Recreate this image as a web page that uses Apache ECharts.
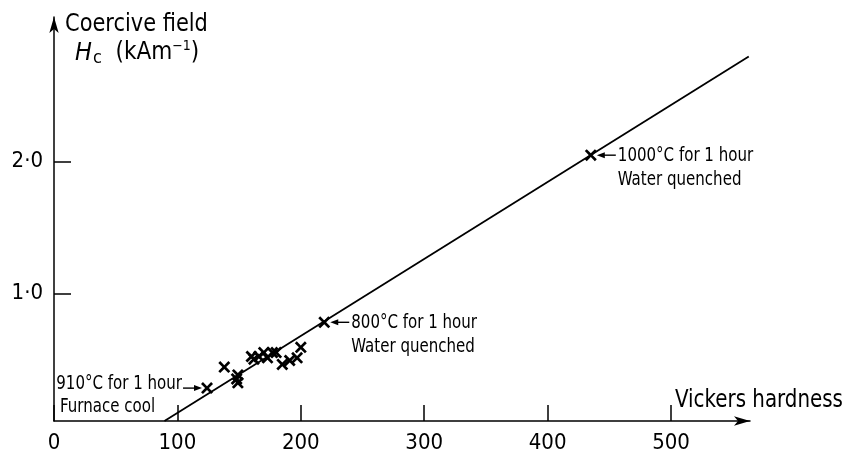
<!DOCTYPE html>
<html><head><meta charset="utf-8">
<script src="https://cdn.jsdelivr.net/npm/echarts@6/dist/echarts.min.js"></script>
<style>html,body{margin:0;padding:0;background:#fff}#c{width:852px;height:454px}</style>
</head><body><div id="c"></div>
<script>
const FONT = "'DejaVu Sans Condensed','DejaVu Sans',sans-serif";

// Vickers hardness (HV) and coercive field Hc (kA/m) of the measured samples
const hardness = [124, 138, 149, 148, 149, 160, 162, 166, 170, 173, 177, 180, 185, 191, 197, 200, 219, 435];
const coercive = [0.28, 0.44, 0.38, 0.35, 0.32, 0.52, 0.50, 0.52, 0.55, 0.51, 0.55, 0.55, 0.46, 0.49, 0.51, 0.59, 0.78, 2.05];

// straight-line fit, end points
const fitHardness = [89.5, 563];
const fitCoercive = [0.03, 2.80];

// axis ticks
const xTicks = [0, 100, 200, 300, 400, 500];
const yTicks = [1, 2];

// heat-treatment notes on single samples (index into the arrays above)
const notes = [
  { idx: 0,  side: 'left',  lines: ['910°C for 1 hour', 'Furnace cool'] },
  { idx: 16, side: 'right', lines: ['800°C for 1 hour', 'Water quenched'] },
  { idx: 17, side: 'right', lines: ['1000°C for 1 hour', 'Water quenched'] }
];

const chart = echarts.init(document.getElementById('c'), null, { renderer: 'canvas' });

const axisLineStyle = { color: '#000', width: 1.5 };

// filled diagonal cross used as the sample marker
const CROSS = 'path://M0,1.6L1.6,0L5,3.4L8.4,0L10,1.6L6.6,5L10,8.4L8.4,10L5,6.6L1.6,10L0,8.4L3.4,5Z';

chart.setOption({
  animation: false,
  backgroundColor: '#fff',
  grid: { left: 54, top: 17, width: 696, height: 405, containLabel: false },
  xAxis: {
    type: 'value', min: 0, max: 564,
    axisLine: { onZero: false, lineStyle: axisLineStyle, symbol: ['none', 'arrow'], symbolSize: [7, 16] },
    axisTick: { inside: true, length: 16, lineStyle: axisLineStyle, customValues: xTicks },
    axisLabel: { customValues: xTicks, color: '#000', fontSize: 22, fontFamily: FONT, margin: 11 },
    splitLine: { show: false }
  },
  yAxis: {
    type: 'value', min: 0.03, max: 3.1,
    axisLine: { onZero: false, lineStyle: axisLineStyle, symbol: ['none', 'arrow'], symbolSize: [7, 16] },
    axisTick: { inside: true, length: 17, lineStyle: axisLineStyle, customValues: yTicks },
    axisLabel: {
      customValues: yTicks, color: '#000', fontSize: 22, fontFamily: FONT, margin: 11,
      formatter: v => v.toFixed(1).replace('.', '·')
    },
    splitLine: { show: false }
  },
  series: [
    {
      type: 'line',
      data: fitHardness.map((x, i) => [x, fitCoercive[i]]),
      showSymbol: false, symbol: 'none',
      lineStyle: { color: '#000', width: 1.8 },
      z: 2
    },
    {
      type: 'scatter',
      data: hardness.map((x, i) => [x, coercive[i]]),
      symbol: CROSS,
      symbolSize: 12,
      itemStyle: { color: '#000', opacity: 1 },
      z: 3
    }
  ]
});

// axis titles and notes, placed from the axes' own coordinate conversion
function px(x, y) { return chart.convertToPixel({ gridIndex: 0 }, [x, y]); }

function arrow(x1, x2, y) {
  // shaft from x1 to x2 with a head pointing at x2
  const dir = x2 > x1 ? 1 : -1;
  return [
    { type: 'line', shape: { x1: x1, y1: y, x2: x2 - dir * 6, y2: y }, style: { stroke: '#000', lineWidth: 1.4 }, z: 10 },
    { type: 'polygon', shape: { points: [[x2, y], [x2 - dir * 8, y - 3], [x2 - dir * 8, y + 3]] }, style: { fill: '#000' }, z: 10 }
  ];
}

// narrow lettering for the notes
function note(x, y, text, align) {
  return {
    type: 'text', x: x, y: y, scaleX: 0.88, z: 10,
    style: { text: text, fill: '#000', fontFamily: FONT, fontSize: 19, verticalAlign: 'middle', align: align }
  };
}

const graphics = [];

notes.forEach(n => {
  const p = px(hardness[n.idx], coercive[n.idx]);
  if (n.side === 'right') {
    graphics.push(...arrow(p[0] + 25, p[0] + 6, p[1]));
    graphics.push(note(p[0] + 27, p[1] + 1, n.lines[0], 'left'));
    graphics.push(note(p[0] + 27, p[1] + 25, n.lines[1], 'left'));
  } else {
    graphics.push(...arrow(p[0] - 24, p[0] - 5, p[1]));
    graphics.push(note(p[0] - 25, p[1] - 4, n.lines[0], 'right'));
    graphics.push(note(p[0] - 147, p[1] + 19, n.lines[1], 'left'));
  }
});

// y-axis title, two lines
const yTop = px(0, 3.1);
graphics.push({
  type: 'text', x: yTop[0] + 11, y: yTop[1] + 8, scaleX: 0.97,
  style: { text: 'Coercive field', fill: '#000', fontFamily: FONT, fontSize: 24, verticalAlign: 'middle', align: 'left' }, z: 10
});
graphics.push({
  type: 'text', x: yTop[0] + 21, y: yTop[1] + 36,
  style: {
    text: '{i|H}{sub|c}  (kAm{sup|−1})',
    fill: '#000', fontFamily: FONT, fontSize: 24, verticalAlign: 'middle', align: 'left',
    rich: {
      i: { fontFamily: FONT, fontSize: 25, fontStyle: 'italic', fill: '#000' },
      sub: { fontFamily: FONT, fontSize: 18, fill: '#000', padding: [10, 0, 0, 1] },
      sup: { fontFamily: FONT, fontSize: 14, fill: '#000', padding: [0, 0, 14, 0] }
    }
  }, z: 10
});

// x-axis title, above the arrow end
const xEnd = px(564, 0.03);
graphics.push({
  type: 'text', x: xEnd[0] - 75, y: xEnd[1] - 20, scaleX: 0.92,
  style: { text: 'Vickers hardness', fill: '#000', fontFamily: FONT, fontSize: 24, verticalAlign: 'middle', align: 'left' }, z: 10
});

chart.setOption({ graphic: graphics });
</script>
</body></html>
